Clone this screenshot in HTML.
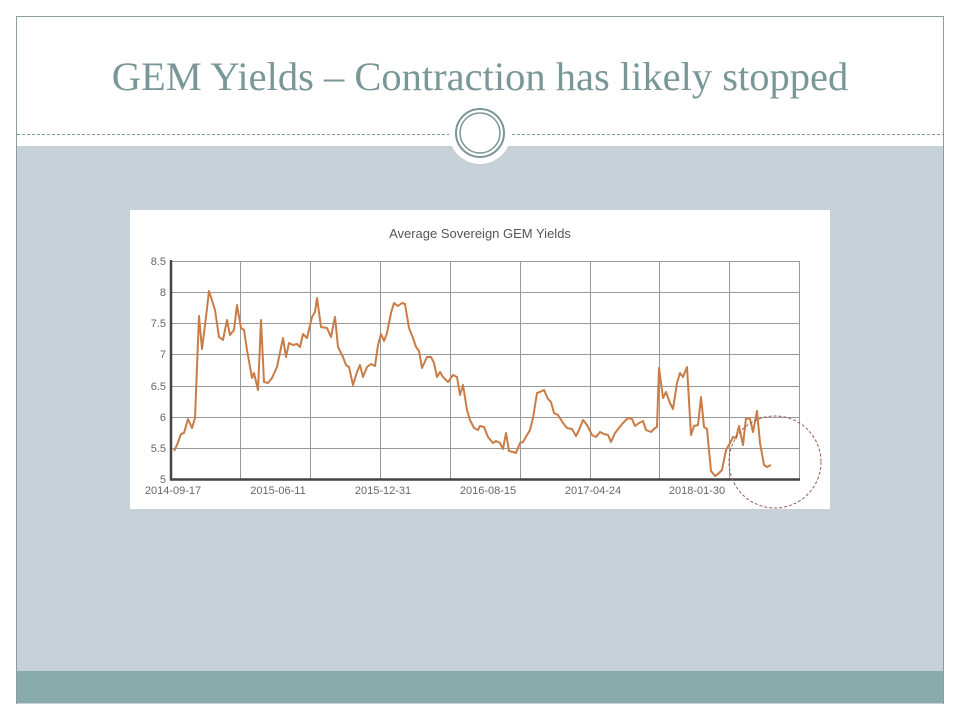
<!DOCTYPE html>
<html><head><meta charset="utf-8"><style>
body{margin:0;width:960px;height:720px;background:#fff;overflow:hidden;font-family:"Liberation Sans",sans-serif}
</style></head><body>
<svg width="960" height="720" viewBox="0 0 960 720" xmlns="http://www.w3.org/2000/svg" style="position:absolute;left:0;top:0">
<rect x="16.5" y="16.5" width="927" height="687" fill="#fff" stroke="#8c9c9c"/>
<rect x="17" y="146" width="926" height="525" fill="#c5d1d6"/>
<rect x="17" y="671" width="926" height="32" fill="#8aabab"/>
<line x1="17" y1="703.5" x2="943" y2="703.5" stroke="#c8d4d4"/>
<line x1="17" y1="134.5" x2="943" y2="134.5" stroke="#7f9898" stroke-dasharray="3,2"/>
<circle cx="480" cy="133" r="31" fill="#fff"/>
<circle cx="480" cy="133" r="24" fill="none" stroke="#7a9595" stroke-width="2"/>
<circle cx="480" cy="133" r="20" fill="none" stroke="#7a9595" stroke-width="1.5"/>
<text x="480" y="90" text-anchor="middle" font-family="Liberation Serif,serif" font-size="40.5" fill="#7a9797">GEM Yields – Contraction has likely stopped</text>
<rect x="130" y="210" width="700" height="299" fill="#fff"/>
<text x="480" y="238" text-anchor="middle" font-size="13" fill="#555">Average Sovereign GEM Yields</text>
<g stroke="#999" stroke-width="1" fill="none">
<path d="M170 261.5H799M170 292.5H799M170 323.5H799M170 354.5H799M170 386.5H799M170 417.5H799M170 448.5H799"/>
<path d="M240.5 261V479M310.5 261V479M380.5 261V479M450.5 261V479M520.5 261V479M590.5 261V479M659.5 261V479M729.5 261V479M799.5 261V479"/>
</g>
<path d="M171 260V479.5H800" fill="none" stroke="#444" stroke-width="2.5"/>
<g font-size="11" fill="#666" text-anchor="end">
<text x="166" y="265">8.5</text><text x="166" y="296">8</text><text x="166" y="327">7.5</text><text x="166" y="358">7</text><text x="166" y="390">6.5</text><text x="166" y="421">6</text><text x="166" y="452">5.5</text><text x="166" y="483">5</text>
</g>
<g font-size="11" fill="#666" text-anchor="middle">
<text x="173" y="494">2014-09-17</text><text x="278" y="494">2015-06-11</text><text x="383" y="494">2015-12-31</text><text x="488" y="494">2016-08-15</text><text x="593" y="494">2017-04-24</text><text x="697" y="494">2018-01-30</text>
</g>
<polyline fill="none" stroke="#c97c46" stroke-width="2" stroke-linejoin="round" points="174,451 177,445 181,434 184,433 188,419 192,428 195,418 199,316 202,349 206,317 209,291 215,310 219,337 223,340 227,320 230,335 234,330 237,305 241,328 244,330 247,350 252,378 254,373 258,390 261,320 264,382 268,383 272,378 277,367 283,338 286,357 289,343 293,345 297,344 300,347 303,334 307,338 312,317 315,312 317,298 321,327 327,328 331,337 335,317 338,347 343,357 346,365 349,367 353,385 357,372 360,365 363,377 367,367 371,364 375,366 378,345 381,334 384,341 387,333 391,313 394,303 398,306 402,303 405,304 409,328 413,338 416,347 419,351 422,368 427,357 431,357 434,363 437,377 440,372 443,377 448,382 453,375 457,377 460,395 463,385 467,410 470,420 474,428 478,430 480,426 484,427 488,437 493,443 496,441 500,443 503,449 506,433 509,451 513,452 516,453 520,443 523,442 527,435 530,430 533,418 537,393 540,392 544,390 548,399 551,402 554,413 558,415 563,423 567,428 572,429 576,436 579,430 583,420 587,425 592,435 596,437 600,432 604,434 608,435 611,442 615,433 619,428 623,423 628,418 632,419 635,426 639,423 643,421 646,430 651,432 655,428 657,427 659,368 663,398 666,392 670,403 673,409 677,383 680,373 683,377 687,367 691,435 694,426 698,425 701,397 704,427 707,429 711,471 715,476 718,474 722,470 726,450 730,443 733,437 736,438 739,426 743,445 746,418 750,419 753,432 757,411 760,443 764,465 767,467 771,465"/>
<circle cx="775" cy="462" r="46" fill="none" stroke="#9a5a5a" stroke-width="1" stroke-dasharray="3,2"/>
</svg>
</body></html>
